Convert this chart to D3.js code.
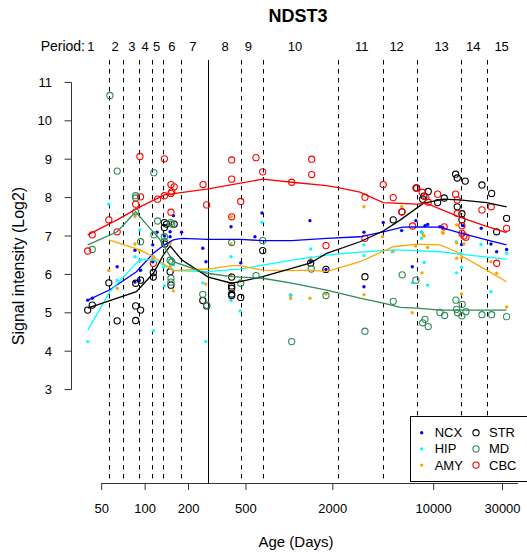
<!DOCTYPE html>
<html lang="en">
<head>
<meta charset="utf-8">
<script src="https://d3js.org/d3.v7.min.js"></script>
<style>
  body { margin: 0; background: white; }
  svg { font-family: "Liberation Sans", Arial, sans-serif; }
</style>
</head>
<body>
<div id="chart"></div>
<script>
// sample points: [age in days, log2 signal]
const ncxPts = [[40,5.33],[43,5.38],[64,6.2],[85,5.8],[85,6.63],[91,5.84],[93,6.11],[113,6.77],[113,6.33],[121,7.1],[136,7.0],[149,7.11],[149,6.98],[157,7.53],[179,7.1],[251,6.68],[264,6.33],[394,7.24],[460,6.3],[577,6.98],[646,7.6],[1020,5.46],[1388,7.4],[1404,6.33],[1792,6.13],[3287,7.1],[3287,5.68],[4472,7.35],[5998,7.14],[7105,6.2],[7534,7.4],[8254,7.1],[8700,7.27],[9084,7.3],[11052,7.24],[11541,7.22],[16031,7.27],[15625,6.78],[21372,7.2],[24941,6.79],[27318,6.59],[32036,6.65]];
const hipPts = [[40,4.25],[56,7.83],[64,5.85],[85,6.46],[92,6.37],[92,7.16],[114,6.46],[114,4.53],[134,6.2],[136,5.7],[157,6.25],[251,5.78],[263,4.25],[394,6.46],[394,5.32],[455,5.05],[646,7.36],[1020,5.45],[1404,6.66],[3287,6.77],[3287,6.49],[5163,6.59],[7105,5.78],[8254,6.94],[8254,7.09],[8602,6.31],[9084,5.72],[14335,6.85],[14427,6.04],[15453,6.55],[15625,6.18],[21269,6.78],[24941,5.55],[32036,6.55]];
const amyPts = [[56,6.1],[64,5.64],[85,6.79],[85,7.5],[91,6.63],[113,6.42],[149,6.81],[149,6.2],[157,5.57],[263,5.75],[394,7.5],[394,6.79],[394,5.99],[460,5.84],[1020,5.38],[1404,6.43],[1388,5.38],[1792,5.49],[3287,7.76],[3287,5.47],[4429,6.98],[5245,6.6],[5998,7.76],[7105,5.0],[7499,6.74],[8294,6.04],[8467,7.03],[8602,7.0],[9084,6.7],[11650,7.07],[11541,7.09],[14427,7.29],[14427,6.42],[14427,6.82],[15625,6.43],[15625,5.49],[16209,6.79],[24941,6.33],[27318,6.03],[32036,5.15]];
const strPts = [[40,5.07],[43,5.2],[56,5.78],[64,4.79],[86,5.77],[86,5.18],[86,4.8],[93,5.85],[93,5.07],[114,6.05],[114,5.93],[136,7.35],[136,7.22],[137,6.79],[141,7.31],[149,6.07],[151,5.72],[159,7.31],[251,5.32],[267,5.18],[398,5.93],[398,5.7],[398,5.64],[398,5.49],[398,5.45],[460,5.4],[653,6.62],[1404,6.3],[1792,6.13],[3340,5.94],[5245,7.42],[6026,7.63],[7621,8.25],[8386,7.96],[8561,8.04],[9170,8.16],[10654,7.87],[11836,7.99],[14197,8.61],[14564,8.51],[14564,7.76],[15701,7.58],[15701,7.42],[16553,8.43],[21609,8.33],[25218,8.11],[27318,7.11],[32036,7.46]];
const mdPts = [[43,6.65],[57,10.66],[64,8.69],[86,8.05],[86,7.99],[86,7.63],[93,6.85],[115,8.65],[115,7.03],[122,7.39],[136,6.98],[136,6.85],[150,7.35],[153,7.31],[149,6.37],[153,6.33],[151,5.9],[151,5.8],[251,5.48],[267,5.2],[398,6.83],[460,5.77],[587,5.97],[653,6.88],[1037,4.25],[1418,6.14],[1792,5.45],[3340,4.52],[5245,5.3],[6053,5.99],[7534,5.85],[8700,4.83],[8386,4.74],[9170,4.64],[11052,5.01],[11912,4.93],[14266,5.33],[14427,5.09],[14659,5.0],[15776,5.22],[15701,4.92],[16736,5.03],[21609,4.95],[25218,4.95],[32036,4.9]];
const cbcPts = [[40,6.61],[43,7.03],[56,7.42],[64,7.11],[86,7.83],[92,9.07],[93,8.02],[114,6.29],[122,7.96],[136,9.01],[136,8.05],[151,8.34],[151,8.11],[153,8.15],[151,7.62],[159,8.28],[252,8.34],[267,7.81],[398,8.98],[398,8.48],[398,7.5],[460,7.9],[587,9.04],[653,8.67],[1037,8.4],[1427,9.0],[1427,8.6],[1792,6.75],[3340,8.01],[3340,6.94],[4472,8.34],[5245,8.0],[6026,7.63],[7149,7.26],[7534,8.25],[8334,8.14],[8839,8.02],[9170,7.88],[10654,8.09],[11836,7.24],[14197,8.09],[14564,7.94],[14564,7.59],[15701,7.27],[15701,7.07],[16209,7.0],[16736,6.97],[21609,7.68],[25061,7.76],[27318,6.29],[32036,7.2]];

// smoothed curves
const ncxFit = [[40,5.33],[57,5.6],[87,6.07],[114,6.55],[136,6.77],[157,6.9],[179,6.94],[274,6.91],[455,6.91],[653,6.88],[1037,6.88],[1813,6.94],[3083,6.98],[4470,7.11],[6090,7.23],[7620,7.24],[11050,7.23],[15600,7.07],[23300,6.9],[32000,6.77]];
const hipFit = [[40,4.55],[57,5.55],[92,6.39],[114,6.37],[149,6.16],[160,6.1],[267,6.07],[455,6.14],[653,6.24],[1037,6.37],[1813,6.5],[3083,6.58],[5245,6.64],[7620,6.62],[11050,6.59],[15600,6.52],[32000,6.4]];
const amyFit = [[56,6.9],[92,6.64],[114,6.46],[157,6.1],[274,6.14],[398,6.23],[455,6.23],[653,6.11],[1037,6.1],[1404,6.11],[1813,6.07],[3083,6.33],[5245,6.72],[7620,6.79],[11050,6.77],[14430,6.59],[15600,6.48],[23300,6.11],[32000,5.81]];
const strFit = [[40,5.12],[87,5.55],[114,6.03],[136,6.55],[149,6.74],[157,6.64],[179,6.38],[274,5.93],[398,5.77],[455,5.81],[653,5.94],[1037,6.16],[1404,6.3],[1813,6.55],[3083,6.85],[4470,7.13],[5880,7.42],[8460,7.85],[11650,7.96],[15000,7.94],[23300,7.87],[32000,7.76]];
const mdFit = [[40,6.77],[64,7.11],[86,7.63],[108,7.2],[125,6.94],[157,6.33],[267,6.03],[398,5.94],[653,5.9],[1037,5.77],[1813,5.59],[3083,5.38],[4470,5.25],[5880,5.14],[7620,5.12],[11050,5.07],[32000,5.07]];
const cbcFit = [[40,7.03],[64,7.42],[92,7.76],[136,8.07],[267,8.22],[653,8.48],[1037,8.4],[1813,8.31],[2180,8.26],[3083,8.14],[4470,7.87],[7620,7.83],[8940,7.85],[15000,7.5],[23000,7.26],[32000,7.09]];

// period boundaries (days), birth drawn solid
const periodBreaks = [56, 70, 91, 112, 133, 178, 274, 459, 653, 2180, 4470, 7620, 15380, 23300];
const birthDay = 274;
const periodLabels = ["1","2","3","4","5","6","7","8","9","10","11","12","13","14","15"];
const periodLabelDays = [42, 62, 81, 100, 120, 153, 214, 358, 519, 1093, 3168, 5537, 11357, 18800, 29580];

const xTicks = [50, 100, 200, 500, 2000, 10000, 30000];
const yTicks = [3, 4, 5, 6, 7, 8, 9, 10, 11];

const regions = ["NCX", "HIP", "AMY", "STR", "MD", "CBC"];
const regionColors = ["#0000FF", "#00FFFF", "#FFA500", "#000000", "#2E8B57", "#FF0000"];
const regionPts = [ncxPts, hipPts, amyPts, strPts, mdPts, cbcPts];
const regionFits = [ncxFit, hipFit, amyFit, strFit, mdFit, cbcFit];

const W = 527, H = 554;
const plotTop = 60, plotBottom = 483, plotLeft = 71.5, plotRight = 517.5;

const svg = d3.select("#chart").append("svg")
    .attr("width", W)
    .attr("height", H);

const x = d3.scaleLog().domain([50, 30000]).range([101.7, 502.5]);
const y = d3.scaleLinear().domain([3, 11]).range([389.6, 82.4]);

// title
svg.append("text")
    .attr("x", 298)
    .attr("y", 22)
    .attr("text-anchor", "middle")
    .style("font-size", "18px")
    .style("font-weight", "bold")
    .text("NDST3");

// period lines
svg.append("g")
    .selectAll("line")
    .data(periodBreaks)
    .join("line")
    .attr("x1", d => Math.round(x(d)) + 0.5)
    .attr("x2", d => Math.round(x(d)) + 0.5)
    .attr("y1", plotTop)
    .attr("y2", plotBottom)
    .attr("stroke", "black")
    .attr("stroke-width", 1)
    .attr("stroke-dasharray", d => d === birthDay ? null : "4.5,4.5");

// period labels
svg.append("text")
    .attr("x", 85)
    .attr("y", 51)
    .attr("text-anchor", "end")
    .style("font-size", "14px")
    .text("Period:");

svg.append("g")
    .selectAll("text")
    .data(periodLabels)
    .join("text")
    .attr("x", (d, i) => x(periodLabelDays[i]))
    .attr("y", 51)
    .attr("text-anchor", "middle")
    .style("font-size", "13px")
    .text(d => d);

// y axis
const yAxis = svg.append("g");
yAxis.append("line")
    .attr("x1", plotLeft).attr("x2", plotLeft)
    .attr("y1", y(3)).attr("y2", y(11))
    .attr("stroke", "#333");
yAxis.selectAll(".tick")
    .data(yTicks)
    .join("line")
    .attr("x1", plotLeft - 7).attr("x2", plotLeft)
    .attr("y1", d => y(d)).attr("y2", d => y(d))
    .attr("stroke", "#333");
yAxis.selectAll("text")
    .data(yTicks)
    .join("text")
    .attr("x", 52)
    .attr("y", d => y(d))
    .attr("dy", "0.35em")
    .attr("text-anchor", "end")
    .style("font-size", "13px")
    .text(d => d);

svg.append("text")
    .attr("transform", `translate(24,266) rotate(-90)`)
    .attr("text-anchor", "middle")
    .style("font-size", "16px")
    .text("Signal intensity (Log2)");

// x axis
const xAxis = svg.append("g");
xAxis.append("line")
    .attr("x1", x(50)).attr("x2", 518)
    .attr("y1", plotBottom + 0.5).attr("y2", plotBottom + 0.5)
    .attr("stroke", "#333");
xAxis.selectAll(".tick")
    .data(xTicks)
    .join("line")
    .attr("x1", d => x(d)).attr("x2", d => x(d))
    .attr("y1", plotBottom).attr("y2", plotBottom + 7)
    .attr("stroke", "#333");
xAxis.selectAll("text")
    .data(xTicks)
    .join("text")
    .attr("x", d => x(d))
    .attr("y", 513)
    .attr("text-anchor", "middle")
    .style("font-size", "13px")
    .text(d => d);

svg.append("text")
    .attr("x", 296)
    .attr("y", 547)
    .attr("text-anchor", "middle")
    .style("font-size", "15px")
    .text("Age (Days)");

// points: first three regions as small dots, last three as open circles
regionPts.forEach((pts, i) => {
    const open = i >= 3;
    svg.append("g")
        .selectAll("circle")
        .data(pts)
        .join("circle")
        .attr("cx", d => x(d[0]))
        .attr("cy", d => y(d[1]))
        .attr("r", open ? 3.1 : 1.7)
        .attr("fill", open ? "none" : regionColors[i])
        .attr("stroke", open ? regionColors[i] : "none")
        .attr("stroke-width", 1.1);
});

// smoothed lines
const line = d3.line()
    .x(d => x(d[0]))
    .y(d => y(d[1]));

regionFits.forEach((fit, i) => {
    svg.append("path")
        .datum(fit)
        .attr("d", line)
        .attr("fill", "none")
        .attr("stroke", regionColors[i])
        .attr("stroke-width", 1.3);
});

// legend
const legend = svg.append("g");
legend.append("rect")
    .attr("x", 410.5).attr("y", 416.5)
    .attr("width", 120).attr("height", 65)
    .attr("fill", "white")
    .attr("stroke", "black");

regions.forEach((r, i) => {
    const col = Math.floor(i / 3), row = i % 3;
    const cx = col === 0 ? 421.7 : 476;
    const cy = 432.7 + row * 16.2;
    legend.append("circle")
        .attr("cx", cx).attr("cy", cy)
        .attr("r", col === 0 ? 1.7 : 3.1)
        .attr("fill", col === 0 ? regionColors[i] : "none")
        .attr("stroke", col === 0 ? "none" : regionColors[i])
        .attr("stroke-width", 1.1);
    legend.append("text")
        .attr("x", cx + 13)
        .attr("y", cy)
        .attr("dy", "0.35em")
        .style("font-size", "13px")
        .text(r);
});
</script>
</body>
</html>
